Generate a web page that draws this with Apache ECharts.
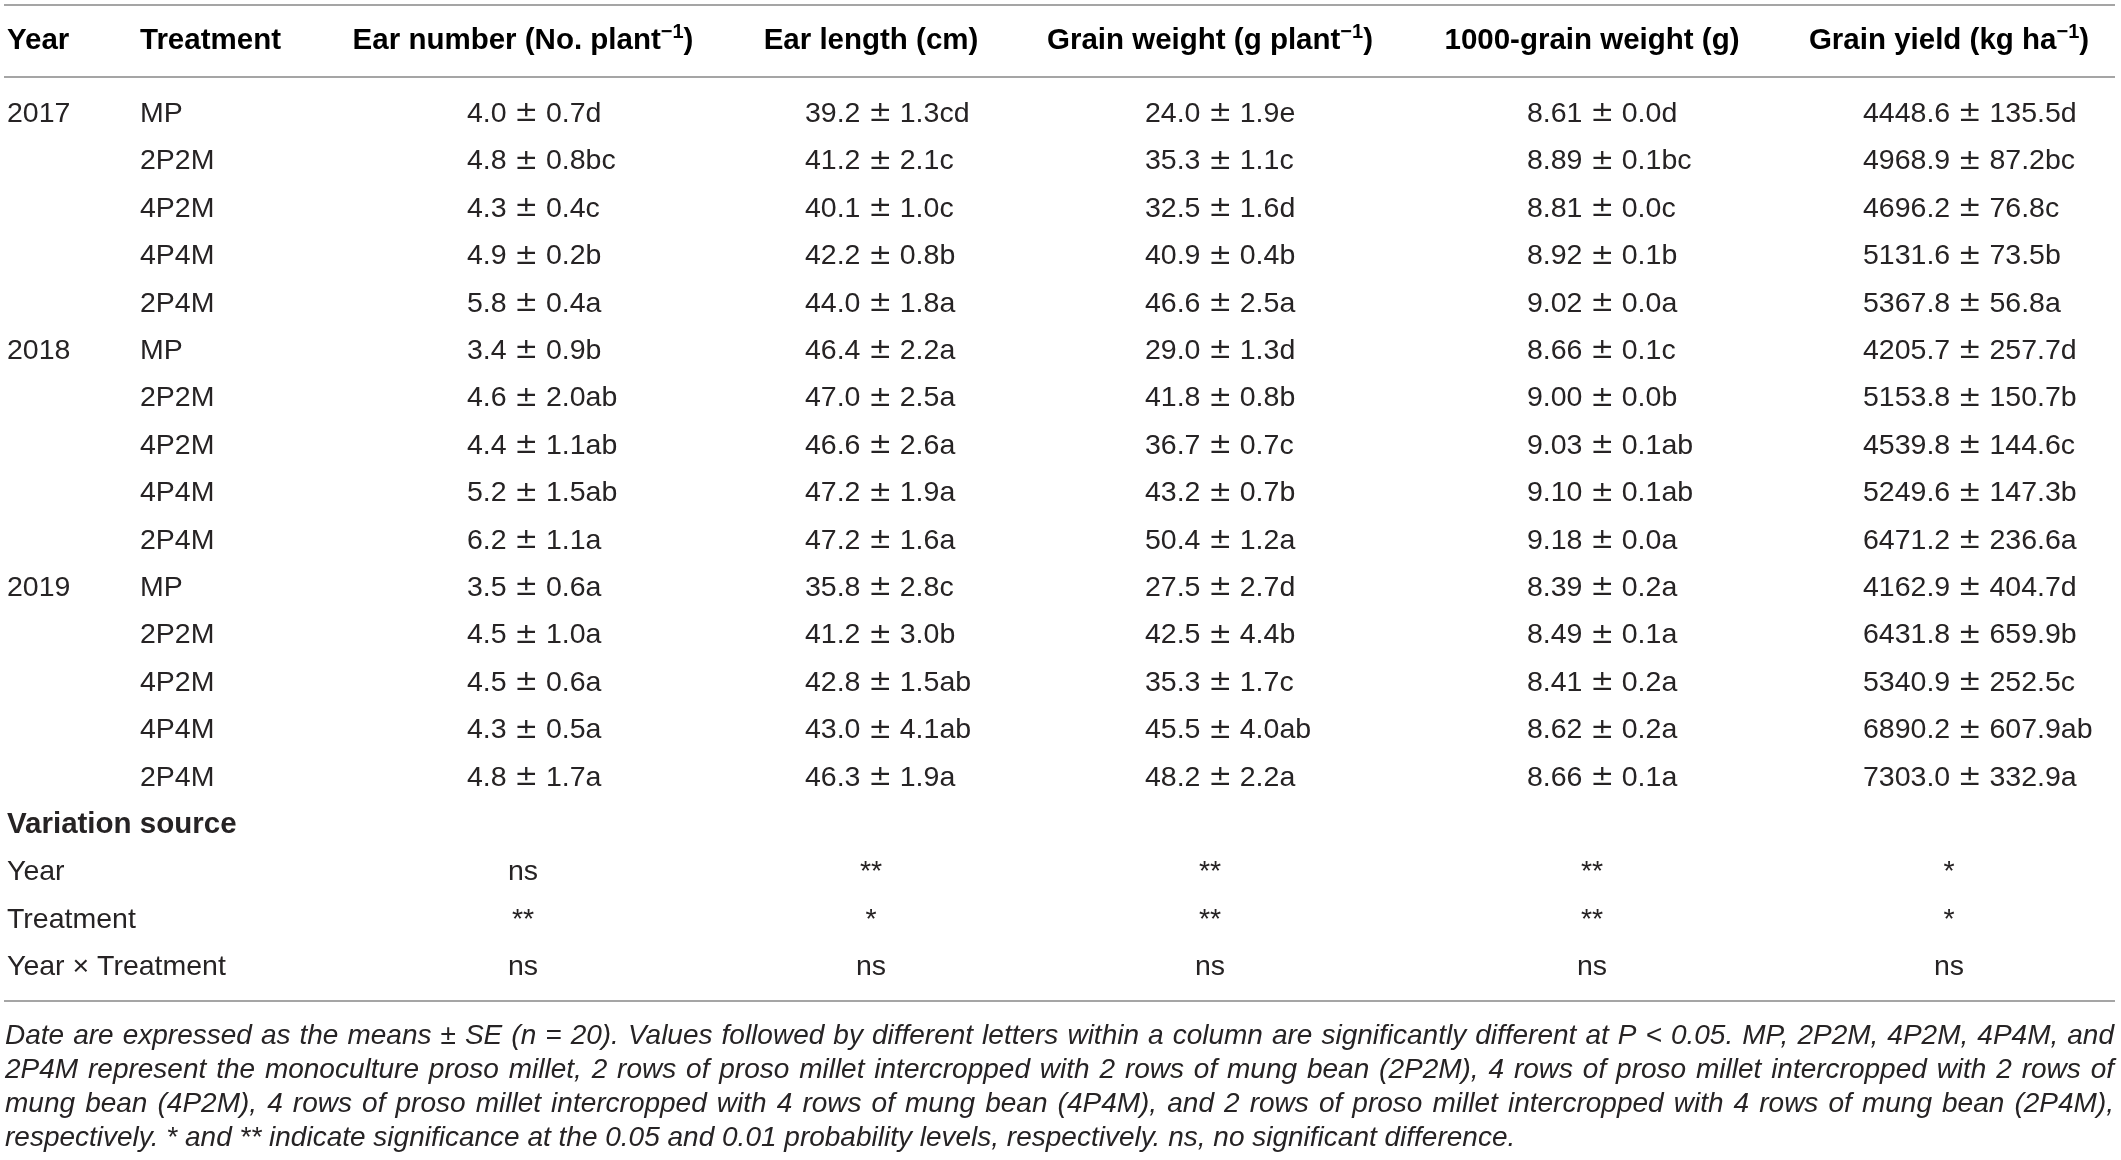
<!DOCTYPE html>
<html>
<head>
<meta charset="utf-8">
<title>Yield components table</title>
<script src="https://cdn.jsdelivr.net/npm/echarts@6/dist/echarts.min.js"></script>
<style>
  html, body { margin: 0; padding: 0; background: #fff; }
  #main { width: 2121px; height: 1160px; }
</style>
</head>
<body>
<div id="main"></div>
<script>
var years = ['2017', '2018', '2019'];
var treatments = ['MP', '2P2M', '4P2M', '4P4M', '2P4M'];
var earNumber = ['4.0 ± 0.7d', '4.8 ± 0.8bc', '4.3 ± 0.4c', '4.9 ± 0.2b', '5.8 ± 0.4a',
  '3.4 ± 0.9b', '4.6 ± 2.0ab', '4.4 ± 1.1ab', '5.2 ± 1.5ab', '6.2 ± 1.1a',
  '3.5 ± 0.6a', '4.5 ± 1.0a', '4.5 ± 0.6a', '4.3 ± 0.5a', '4.8 ± 1.7a'];
var earLength = ['39.2 ± 1.3cd', '41.2 ± 2.1c', '40.1 ± 1.0c', '42.2 ± 0.8b', '44.0 ± 1.8a',
  '46.4 ± 2.2a', '47.0 ± 2.5a', '46.6 ± 2.6a', '47.2 ± 1.9a', '47.2 ± 1.6a',
  '35.8 ± 2.8c', '41.2 ± 3.0b', '42.8 ± 1.5ab', '43.0 ± 4.1ab', '46.3 ± 1.9a'];
var grainWeight = ['24.0 ± 1.9e', '35.3 ± 1.1c', '32.5 ± 1.6d', '40.9 ± 0.4b', '46.6 ± 2.5a',
  '29.0 ± 1.3d', '41.8 ± 0.8b', '36.7 ± 0.7c', '43.2 ± 0.7b', '50.4 ± 1.2a',
  '27.5 ± 2.7d', '42.5 ± 4.4b', '35.3 ± 1.7c', '45.5 ± 4.0ab', '48.2 ± 2.2a'];
var kernelWeight = ['8.61 ± 0.0d', '8.89 ± 0.1bc', '8.81 ± 0.0c', '8.92 ± 0.1b', '9.02 ± 0.0a',
  '8.66 ± 0.1c', '9.00 ± 0.0b', '9.03 ± 0.1ab', '9.10 ± 0.1ab', '9.18 ± 0.0a',
  '8.39 ± 0.2a', '8.49 ± 0.1a', '8.41 ± 0.2a', '8.62 ± 0.2a', '8.66 ± 0.1a'];
var grainYield = ['4448.6 ± 135.5d', '4968.9 ± 87.2bc', '4696.2 ± 76.8c', '5131.6 ± 73.5b', '5367.8 ± 56.8a',
  '4205.7 ± 257.7d', '5153.8 ± 150.7b', '4539.8 ± 144.6c', '5249.6 ± 147.3b', '6471.2 ± 236.6a',
  '4162.9 ± 404.7d', '6431.8 ± 659.9b', '5340.9 ± 252.5c', '6890.2 ± 607.9ab', '7303.0 ± 332.9a'];
var sources = ['Year', 'Treatment', 'Year × Treatment'];
var sigYear = ['ns', '**', '**', '**', '*'];
var sigTreatment = ['**', '*', '**', '**', '*'];
var sigInteraction = ['ns', 'ns', 'ns', 'ns', 'ns'];
var footnote = [
  'Date are expressed as the means ± SE (n = 20). Values followed by different letters within a column are significantly different at P < 0.05. MP, 2P2M, 4P2M, 4P4M, and',
  '2P4M represent the monoculture proso millet, 2 rows of proso millet intercropped with 2 rows of mung bean (2P2M), 4 rows of proso millet intercropped with 2 rows of',
  'mung bean (4P2M), 4 rows of proso millet intercropped with 4 rows of mung bean (4P4M), and 2 rows of proso millet intercropped with 4 rows of mung bean (2P4M),',
  'respectively. * and ** indicate significance at the 0.05 and 0.01 probability levels, respectively. ns, no significant difference.'
];

// layout
var FONT = '"Liberation Sans", Arial, Helvetica, sans-serif';
var INK = '#262324';
var RULE = '#a5a5a5';
var colYear = 7, colTreat = 140;
var valueLeft = [467, 805, 1145, 1527, 1863];
var colCenter = [523, 871, 1210, 1592, 1949];
var headerY = 41;
var bodyTop = 90.5, rowH = 47.4;
var noteLeft = 5, noteRight = 2114, noteTop = 1036, noteStep = 34, noteSize = 28;

var valueCols = [earNumber, earLength, grainWeight, kernelWeight, grainYield];
var sigRows = [sigYear, sigTreatment, sigInteraction];
var nBody = years.length * treatments.length + 1 + sources.length;
var rowKeys = [];
for (var r = 0; r < nBody; r++) rowKeys.push('r' + r);

// the printed ± is a wide glyph, so it gets its own rich token
var cellRich = {
  n: { fontFamily: FONT, fontSize: 28.5, color: INK },
  pm: { fontFamily: '"DejaVu Sans", sans-serif', fontSize: 28, color: INK }
};
function pmText(s) {
  var parts = s.split(' ± ');
  return '{n|' + parts[0] + ' }{pm|±}{n| ' + parts[1] + '}';
}

// body cells: one text per cell, rows on a category axis
var cells = [];
years.forEach(function (y, yi) {
  cells.push({ x: colYear, row: yi * treatments.length, text: y, align: 'left' });
});
for (var i = 0; i < years.length * treatments.length; i++) {
  cells.push({ x: colTreat, row: i, text: treatments[i % treatments.length], align: 'left' });
  valueCols.forEach(function (col, c) {
    cells.push({ x: valueLeft[c], row: i, text: pmText(col[i]), align: 'left', rich: true });
  });
}
var vsRow = years.length * treatments.length;
cells.push({ x: colYear, row: vsRow, text: 'Variation source', align: 'left', bold: true });
sources.forEach(function (s, si) {
  cells.push({ x: colYear, row: vsRow + 1 + si, text: s, align: 'left' });
  sigRows[si].forEach(function (m, c) {
    cells.push({ x: colCenter[c], row: vsRow + 1 + si, text: m, align: 'center' });
  });
});

function header(text, sup, x, align) {
  var rich = {
    b: { fontFamily: FONT, fontSize: 29.5, fontWeight: 'bold', color: INK, lineHeight: 38 },
    s: { fontFamily: FONT, fontSize: 20, fontWeight: 'bold', color: INK, lineHeight: 25, verticalAlign: 'top' }
  };
  var t = '{b|' + text + '}';
  if (sup) t = '{b|' + text + '}{s|' + sup + '}{b|)}';
  return {
    type: 'text', x: x, y: headerY,
    style: { text: t, rich: rich, align: align, verticalAlign: 'middle' }
  };
}

function rule(y) {
  return { type: 'line', shape: { x1: 4, y1: y, x2: 2115, y2: y }, style: { stroke: RULE, lineWidth: 2 } };
}

var graphics = [
  rule(5), rule(77), rule(1001),
  header('Year', null, colYear, 'left'),
  header('Treatment', null, colTreat, 'left'),
  header('Ear number (No. plant', '−1', colCenter[0], 'center'),
  header('Ear length (cm)', null, colCenter[1], 'center'),
  header('Grain weight (g plant', '−1', colCenter[2], 'center'),
  header('1000-grain weight (g)', null, colCenter[3], 'center'),
  header('Grain yield (kg ha', '−1', colCenter[4], 'center')
];

// footnote: justified like the printed page, last line left ragged
var ctx = document.createElement('canvas').getContext('2d');
ctx.font = 'italic ' + noteSize + 'px ' + FONT;
footnote.forEach(function (line, k) {
  var y = noteTop + k * noteStep;
  var words = line.split(' ');
  var noteStyle = { fontFamily: FONT, fontSize: noteSize, fontStyle: 'italic', fill: INK, verticalAlign: 'middle' };
  if (k === footnote.length - 1) {
    graphics.push({ type: 'text', x: noteLeft, y: y, style: Object.assign({ text: line }, noteStyle) });
    return;
  }
  var widths = words.map(function (w) { return ctx.measureText(w).width; });
  var sum = widths.reduce(function (a, b) { return a + b; }, 0);
  var gap = (noteRight - noteLeft - sum) / (words.length - 1);
  var x = noteLeft;
  words.forEach(function (w, wi) {
    graphics.push({ type: 'text', x: x, y: y, style: Object.assign({ text: w }, noteStyle) });
    x += widths[wi] + gap;
  });
});

var chart = echarts.init(document.getElementById('main'), null, { renderer: 'canvas' });
chart.setOption({
  backgroundColor: '#fff',
  animation: false,
  grid: { left: 0, right: 0, top: bodyTop, height: rowH * nBody },
  xAxis: { type: 'value', min: 0, max: 2121, show: false },
  yAxis: { type: 'category', data: rowKeys, inverse: true, show: false },
  graphic: graphics,
  series: [{
    type: 'custom',
    data: cells.map(function (c) { return [c.x, c.row]; }),
    renderItem: function (params, api) {
      var c = cells[params.dataIndex];
      var p = api.coord([api.value(0), api.value(1)]);
      var style = {
        text: c.text, fontFamily: FONT,
        fontSize: c.bold ? 29.5 : 28.5,
        fontWeight: c.bold ? 'bold' : 'normal',
        fill: INK, align: c.align, verticalAlign: 'middle'
      };
      if (c.rich) style.rich = cellRich;
      return { type: 'text', x: p[0], y: p[1], style: style };
    }
  }]
});
</script>
</body>
</html>
